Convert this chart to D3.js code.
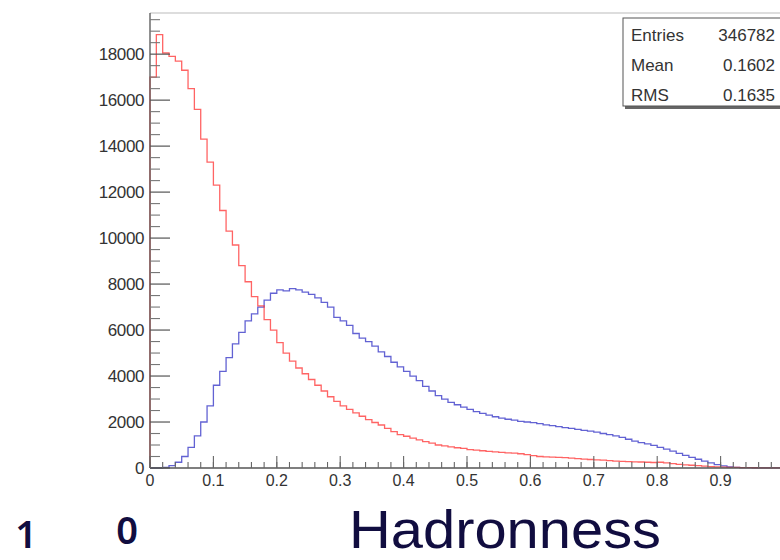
<!DOCTYPE html>
<html><head><meta charset="utf-8">
<script src="https://cdn.jsdelivr.net/npm/d3@7"></script>
<style>html,body{margin:0;padding:0;background:#fff;}svg{display:block;}</style>
</head><body>
<svg id="c" width="780" height="560"></svg>
<script>
// Histogram bin contents, 100 bins of width 0.01 on [0,1]
const binEdgesMin = 0, binEdgesMax = 1;
const redCounts = [
17000,18850,18050,17900,17700,17300,16500,15600,14300,13300,
12300,11200,10300,9700,8800,8100,7450,7050,6450,6000,
5450,5000,4650,4350,4100,3850,3600,3350,3100,2900,
2700,2550,2400,2250,2100,1980,1870,1720,1580,1450,
1380,1300,1220,1150,1080,1000,960,920,880,850,
800,780,750,720,700,680,660,650,620,580,
540,500,480,470,460,450,430,410,390,370,
350,340,320,300,290,280,270,260,250,240,
250,220,190,160,140,120,100,80,60,50,
40,30,25,20,15,10,8,5,3,2];
const blueCounts = [
0,0,30,100,250,500,900,1400,2000,2700,
3600,4200,4800,5400,5900,6400,6700,7000,7300,7600,
7750,7700,7800,7750,7650,7550,7400,7200,7000,6550,
6400,6200,5850,5650,5500,5300,5050,4850,4600,4400,
4200,4000,3800,3550,3350,3150,3000,2850,2750,2650,
2550,2450,2380,2300,2230,2170,2120,2080,2030,2000,
1970,1930,1880,1840,1800,1760,1720,1680,1640,1600,
1560,1500,1450,1400,1330,1250,1170,1100,1050,980,
900,820,730,640,550,460,380,300,220,150,
90,50,30,20,15,10,8,5,3,2];
const xTickLabels = ["0","0.1","0.2","0.3","0.4","0.5","0.6","0.7","0.8","0.9"];
const yTickValues = [0,2000,4000,6000,8000,10000,12000,14000,16000,18000];
const statNames = ["Entries","Mean","RMS"];
const statValues = ["346782","0.1602","0.1635"];
const footerTexts = ["1","0","Hadronness"];

const svg = d3.select("#c");
const L = 150, R = 784, T = 13, B = 468;
const x = d3.scaleLinear().domain([binEdgesMin, binEdgesMax]).range([L, R]);
const y = d3.scaleLinear().domain([0, 19790]).range([B, T]);
const axisCol = "#555";
const nb = redCounts.length, bw = (binEdgesMax - binEdgesMin) / nb;

// frame
svg.append("line").attr("x1", L).attr("x2", 780).attr("y1", T).attr("y2", T)
  .attr("stroke", "#bbb").attr("stroke-width", 1.2);

// histograms as steps
function stepPts(counts) {
  const pts = [[binEdgesMin, 0]];
  counts.forEach((v, i) => { pts.push([binEdgesMin + i * bw, v]); pts.push([binEdgesMin + (i + 1) * bw, v]); });
  pts.push([binEdgesMax, 0]);
  return pts;
}
const line = d3.line().x(d => x(d[0])).y(d => y(d[1]));
svg.append("path").attr("d", line(stepPts(blueCounts))).attr("fill", "none")
  .attr("stroke", "#3b3bc8").attr("stroke-width", 1.3).attr("stroke-opacity", 0.8);
svg.append("path").attr("d", line(stepPts(redCounts))).attr("fill", "none")
  .attr("stroke", "#ff3030").attr("stroke-width", 1.3).attr("stroke-opacity", 0.75);

// y axis
const yMinor = d3.range(0, 19800, 500);
const gy = svg.append("g");
gy.append("line").attr("x1", L).attr("x2", L).attr("y1", T).attr("y2", B).attr("stroke", axisCol).attr("stroke-width", 1.3);
gy.selectAll("line.mn").data(yMinor.filter(v => v % 2000 !== 0)).enter().append("line")
  .attr("x1", L).attr("x2", L + 10).attr("y1", d => y(d)).attr("y2", d => y(d))
  .attr("stroke", "#777").attr("stroke-width", 1.1);
gy.selectAll("line.mj").data(yTickValues).enter().append("line")
  .attr("x1", L).attr("x2", L + 20).attr("y1", d => y(d)).attr("y2", d => y(d))
  .attr("stroke", axisCol).attr("stroke-width", 1.2);
gy.selectAll("text").data(yTickValues).enter().append("text")
  .attr("x", L - 6).attr("y", d => y(d) + 6).attr("text-anchor", "end")
  .attr("font-family", "Liberation Sans, Arial, sans-serif").attr("font-size", 17)
  .attr("fill", "#333").attr("letter-spacing", -0.4).text(d => d3.format("d")(d));

// x axis
const xMinor = d3.range(0, 51).map(i => i * 0.02);
const gx = svg.append("g");
gx.append("line").attr("x1", L).attr("x2", 780).attr("y1", B).attr("y2", B).attr("stroke", axisCol).attr("stroke-width", 1.4);
gx.selectAll("line.mn").data(xMinor).enter().append("line")
  .attr("x1", d => x(d)).attr("x2", d => x(d)).attr("y1", B).attr("y2", B - 6)
  .attr("stroke", "#666").attr("stroke-width", 1.1);
gx.selectAll("line.mj").data(xTickLabels).enter().append("line")
  .attr("x1", d => x(+d)).attr("x2", d => x(+d)).attr("y1", B).attr("y2", B - 12)
  .attr("stroke", "#666").attr("stroke-width", 1.1);
gx.selectAll("text").data(xTickLabels).enter().append("text")
  .attr("x", d => x(+d)).attr("y", B + 18).attr("text-anchor", "middle")
  .attr("font-family", "Liberation Sans, Arial, sans-serif").attr("font-size", 16)
  .attr("fill", "#333").text(d => d);

// stats box
const sb = svg.append("g");
sb.append("rect").attr("x", 625).attr("y", 20).attr("width", 170).attr("height", 89).attr("fill", "#666");
sb.append("rect").attr("x", 623).attr("y", 18).attr("width", 170).attr("height", 88)
  .attr("fill", "#fff").attr("stroke", "#555").attr("stroke-width", 1);
statNames.forEach((n, i) => {
  sb.append("text").attr("x", 631).attr("y", 41 + i * 30).attr("font-family", "Liberation Sans, Arial, sans-serif")
    .attr("font-size", 17).attr("fill", "#333").text(n);
  sb.append("text").attr("x", 775).attr("y", 41 + i * 30).attr("text-anchor", "end").attr("font-family", "Liberation Sans, Arial, sans-serif")
    .attr("font-size", 17).attr("fill", "#333").text(statValues[i]);
});

// footer texts
const navy = "#110d40";
svg.append("text").attr("x", 26).attr("y", 548).attr("text-anchor", "middle")
  .attr("font-family", "Noto Sans, sans-serif").attr("font-weight", 600).attr("font-size", 38).attr("fill", navy).text(footerTexts[0]);
svg.append("text").attr("x", 127).attr("y", 544).attr("text-anchor", "middle")
  .attr("font-family", "Noto Sans, sans-serif").attr("font-weight", 600).attr("font-size", 38).attr("fill", navy).text(footerTexts[1]);
svg.append("text").attr("x", 505).attr("y", 548).attr("text-anchor", "middle")
  .attr("font-family", "Liberation Sans, Arial, sans-serif").attr("font-size", 53).attr("fill", navy)
  .attr("textLength", 312).attr("lengthAdjust", "spacingAndGlyphs").text(footerTexts[2]);
</script>
</body></html>
